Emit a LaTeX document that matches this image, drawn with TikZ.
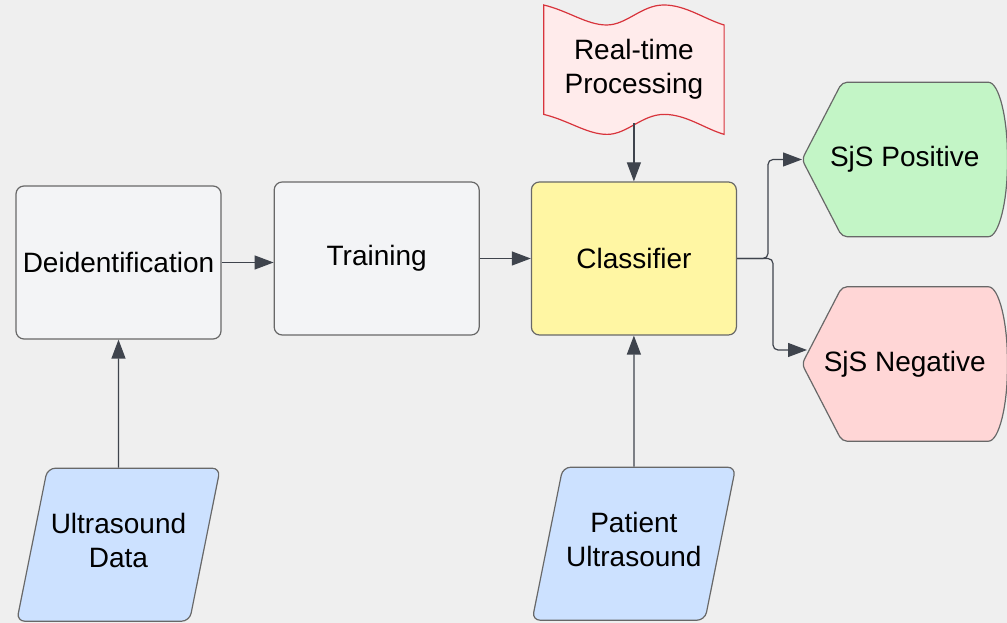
\documentclass[tikz,border=0pt]{standalone}
\usepackage{fontspec}
\setmainfont{Liberation Sans}
\usetikzlibrary{arrows.meta,positioning,shapes.geometric,backgrounds}

\definecolor{canvas}{HTML}{EFEFEF}
\definecolor{boxfill}{HTML}{F3F4F6}
\definecolor{boxline}{HTML}{686868}
\definecolor{linkcol}{HTML}{3F444D}
\definecolor{clsfill}{HTML}{FFF6A3}
\definecolor{datafill}{HTML}{CCE1FF}
\definecolor{posfill}{HTML}{C3F5C6}
\definecolor{negfill}{HTML}{FFD6D6}
\definecolor{rtfill}{HTML}{FFEBEB}
\definecolor{rtline}{HTML}{D8343C}

% outcome outline: pointed left end, bulging right end
\newcommand{\outcomeshape}[2]{%
  \draw[boxline, fill=#2, line width=1.2pt, rounded corners=5pt]
    (#1.west) -- ([xshift=40pt]#1.north west) -- ([xshift=-24pt]#1.north east)
    .. controls ([xshift=-8pt]#1.north east) and ([yshift=40pt]#1.east) .. (#1.east)
    .. controls ([yshift=-40pt]#1.east) and ([xshift=-8pt]#1.south east) .. ([xshift=-24pt]#1.south east)
    -- ([xshift=40pt]#1.south west) -- cycle;}

% wavy outline for the processing note
\newcommand{\waveshape}[1]{%
  \draw[rtline, fill=rtfill, line width=1.2pt]
    (#1.north west) .. controls +(25pt,-6pt) and +(-20pt,0pt) .. ([xshift=63pt,yshift=-20pt]#1.north west)
    .. controls +(20pt,0pt) and +(-22pt,0pt) .. ([xshift=120pt]#1.north west)
    .. controls +(22pt,0pt) and +(-20pt,6pt) .. ([yshift=-20pt]#1.north east)
    -- (#1.south east)
    .. controls +(-20pt,6pt) and +(22pt,0pt) .. ([xshift=-60pt,yshift=20pt]#1.south east)
    .. controls +(-22pt,0pt) and +(20pt,0pt) .. ([xshift=-117pt]#1.south east)
    .. controls +(-20pt,0pt) and +(25pt,-6pt) .. ([yshift=20pt]#1.south west)
    -- cycle;}

\begin{document}
\begin{tikzpicture}[
  x=1pt, y=1pt,
  font=\fontsize{28}{34}\selectfont,
  box/.style={
    draw=boxline,
    fill=boxfill,
    line width=1.2pt,
    rounded corners=8pt,
    align=center,
    minimum width=205pt,
    minimum height=153pt
  },
  datain/.style={
    trapezium,
    trapezium left angle=66,
    trapezium right angle=114,
    trapezium stretches=true,
    draw=boxline,
    fill=datafill,
    line width=1.2pt,
    rounded corners=8pt,
    align=center,
    text depth=8pt,
    minimum width=203pt,
    minimum height=153pt
  },
  wavebox/.style={align=center, minimum width=180pt, minimum height=129pt},
  outcome/.style={align=center, minimum width=205pt, minimum height=154pt},
  arrow/.style={-{Triangle[length=19pt,width=14pt]}, line width=1.2pt, draw=linkcol}
]
\useasboundingbox (0,0) rectangle (1007,623);
\begin{scope}[on background layer]
  \fill[canvas] (0,0) rectangle (1007,623);
\end{scope}

\node[box] (deid) at (118.5,360.5) {Deidentification};
\node[box, right=52pt of deid, yshift=4pt] (train) {Training};
\node[box, fill=clsfill, right=51pt of train] (cls) {Classifier};
\node[wavebox, above=47pt of cls] (rt) {Real-time\\Processing};
\node[datain, below=128pt of deid] (usd) {Ultrasound\\Data};
\node[datain, below=131pt of cls] (pat) {Patient\\Ultrasound};
\node[outcome, right=65pt of cls, yshift=99pt] (pos) {SjS Positive};
\node[outcome, right=65pt of cls, yshift=-105.5pt] (neg) {SjS Negative};

\begin{scope}[on background layer]
  \waveshape{rt}
  \outcomeshape{pos}{posfill}
  \outcomeshape{neg}{negfill}
\end{scope}

\draw[arrow] (deid.east) -- (deid.east -| train.west);
\draw[arrow] (train.east) -- (cls.west);
\draw[arrow] (usd) -- (deid);
\draw[arrow] (pat) -- (cls);
\draw[arrow] ([yshift=11pt]rt.south) -- (cls);
\draw[arrow, rounded corners=5pt] (cls.east) -- ++(31pt,0) |- (pos.west);
\draw[arrow, rounded corners=5pt] (cls.east) -- ++(36pt,0) |- ([xshift=5pt,yshift=14pt]neg.west);

\end{tikzpicture}
\end{document}
